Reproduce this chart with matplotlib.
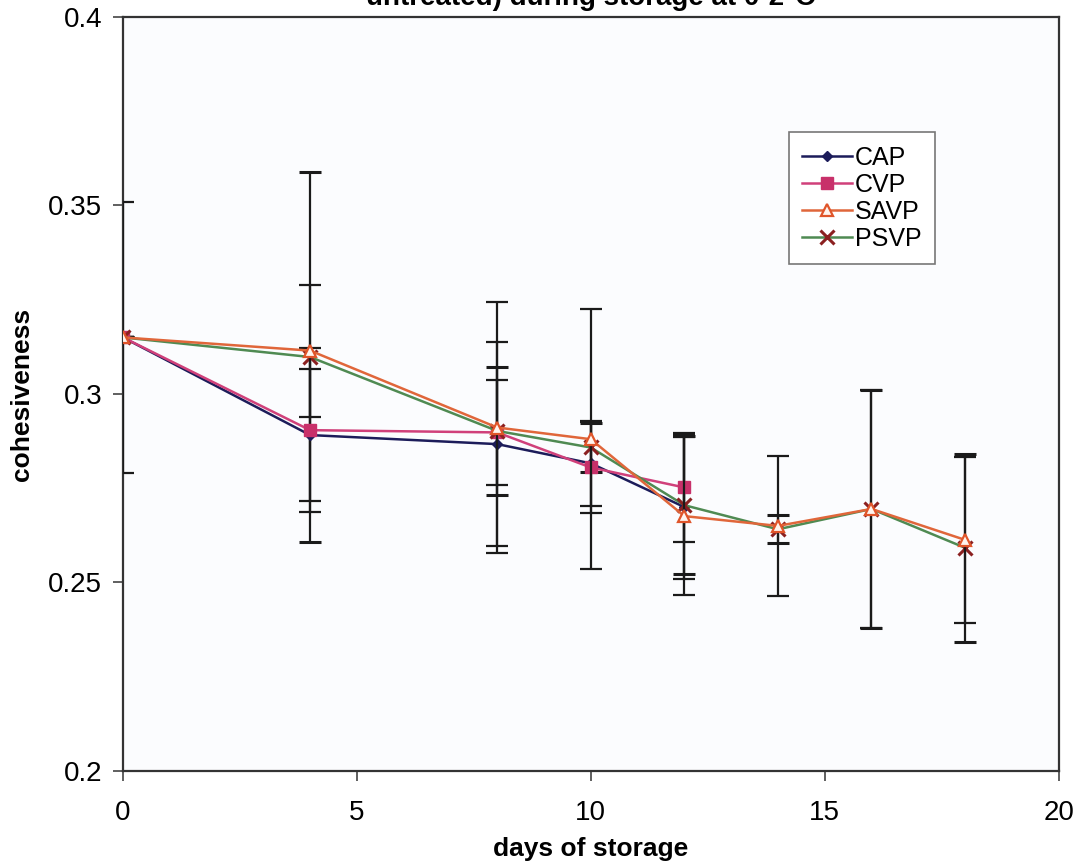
import matplotlib
matplotlib.use('Agg')  # Non-interactive backend
import matplotlib.pyplot as plt

plt.rcParams['font.family'] = ['Liberation Sans', 'DejaVu Sans']

# days of storage
days_c = [0, 4, 8, 10, 12]            # CAP / CVP measured to day 12
days_s = [0, 4, 8, 10, 12, 14, 16, 18]  # SAVP / PSVP measured to day 18

cap = [0.315, 0.2891, 0.2867, 0.2816, 0.2700]
cap_err = [0.0, 0.0175, 0.027, 0.0112, 0.019]
cvp = [0.315, 0.2904, 0.2898, 0.2805, 0.2752]
cvp_err = [0.0, 0.0217, 0.014, 0.012, 0.0145]
savp = [0.315, 0.3115, 0.2911, 0.2880, 0.2676, 0.2650, 0.2695, 0.2613]
savp_err = [0.036, 0.0175, 0.0334, 0.0345, 0.021, 0.0185, 0.0316, 0.0221]
psvp = [0.315, 0.3098, 0.2902, 0.2858, 0.2705, 0.2641, 0.2695, 0.2592]
psvp_err = [0.0, 0.049, 0.017, 0.0065, 0.0183, 0.0037, 0.0316, 0.025]

fig = plt.figure(figsize=(10.88, 8.65), dpi=100)
ax = fig.add_axes([0.113, 0.1087, 0.860, 0.8717])
ax.set_facecolor('#fbfcfe')

eb = dict(ecolor='#1a1a1a', elinewidth=1.6, capsize=8, capthick=1.6)
ax.errorbar(days_c, cap, yerr=cap_err, color='#1c1c5a', lw=1.8, marker='D',
            ms=5, mfc='#1c1c5a', mec='#1c1c5a', label='CAP', zorder=3, **eb)
ax.errorbar(days_c, cvp, yerr=cvp_err, color='#d0407a', lw=1.8, marker='s',
            ms=8, mfc='#c8306a', mec='#c8306a', label='CVP', zorder=3, **eb)
ax.errorbar(days_s, savp, yerr=savp_err, color='#e0663a', lw=1.8, marker='^',
            ms=8, mfc='#fff4ee', mec='#e0552a', mew=1.6, label='SAVP', zorder=4, **eb)
ax.errorbar(days_s, psvp, yerr=psvp_err, color='#4f8a52', lw=1.8, marker='x',
            ms=10, mec='#8b2020', mew=2.2, label='PSVP', zorder=3, **eb)

ax.set_xlim(0, 20)
ax.set_ylim(0.2, 0.4)
ax.set_xticks([0, 5, 10, 15, 20])
ax.set_yticks([0.2, 0.25, 0.3, 0.35, 0.4])
ax.set_yticklabels(['0.2', '0.25', '0.3', '0.35', '0.4'])
ax.tick_params(labelsize=20, length=7, width=1.2, color='#444444', pad=8)
ax.tick_params(axis='x', pad=14)
for s in ax.spines.values():
    s.set_linewidth(1.6)
    s.set_color('#333333')

ax.set_xlabel('days of storage', fontsize=19, fontweight='bold', labelpad=8)
ax.set_ylabel('cohesiveness', fontsize=19, fontweight='bold', labelpad=10)

# title is cut off at the top edge of the scan
fig.text(0.543, 1.002, 'untreated) during storage at 0-2\u00b0C', ha='center',
         va='center', fontsize=20, fontweight='bold')

handles, labels = ax.get_legend_handles_labels()
handles = [h[0] for h in handles]
leg = ax.legend(handles, labels, loc='upper left', bbox_to_anchor=(0.7115, 0.8475),
                fontsize=18, frameon=True, fancybox=False, edgecolor='#777777',
                handlelength=2.0, handletextpad=0.1, labelspacing=0.12,
                borderpad=0.55, borderaxespad=0, framealpha=1)
leg.get_frame().set_linewidth(1.2)

fig.savefig('out.png', dpi=100)
plt.close(fig)
